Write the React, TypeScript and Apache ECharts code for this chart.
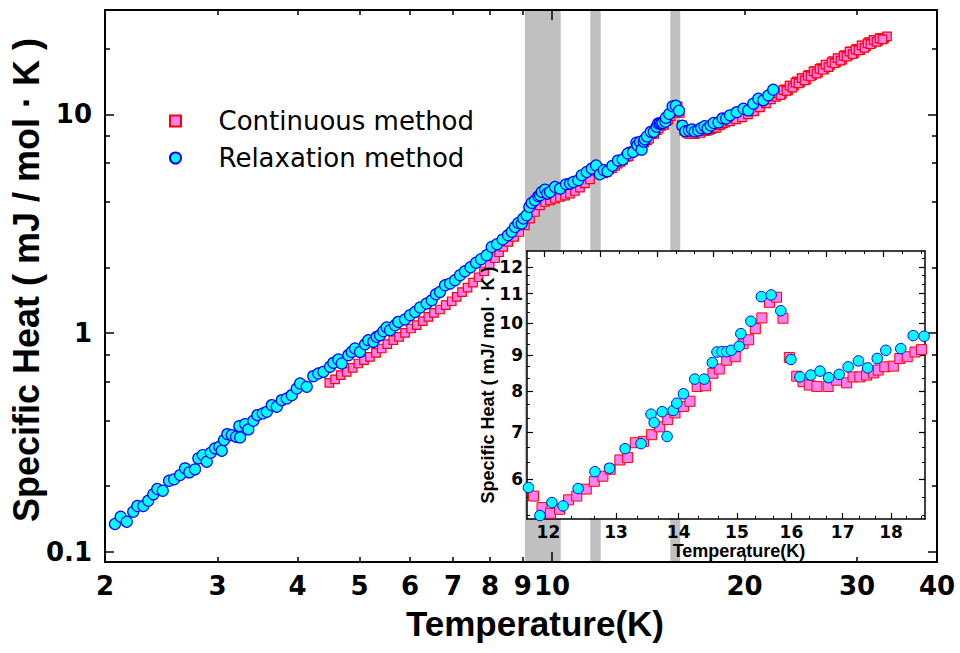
import React, { useEffect, useRef } from 'react';
import * as echarts from 'echarts';

// ---------- data (temperature K, specific heat mJ/mol·K) ----------
const relaxationPoints: [number, number][] = [
  [2.073, 0.1342], [2.116, 0.1449], [2.163, 0.1375], [2.214, 0.1528], [2.247, 0.1622], [2.296, 0.1622],
  [2.337, 0.1715], [2.380, 0.1834], [2.414, 0.1940], [2.462, 0.1905], [2.519, 0.2117], [2.565, 0.2148],
  [2.621, 0.2247], [2.668, 0.2411], [2.710, 0.2312], [2.766, 0.2386], [2.799, 0.2679], [2.844, 0.2773],
  [2.885, 0.2584], [2.927, 0.2841], [2.972, 0.2976], [3.019, 0.3026], [3.045, 0.2902], [3.070, 0.3246],
  [3.107, 0.3457], [3.157, 0.3421], [3.206, 0.3361], [3.253, 0.3340], [3.244, 0.3761], [3.312, 0.3841],
  [3.351, 0.3634], [3.412, 0.3977], [3.462, 0.4222], [3.530, 0.4298], [3.581, 0.4371], [3.646, 0.4690],
  [3.712, 0.4607], [3.780, 0.4944], [3.848, 0.5033], [3.918, 0.5210], [3.989, 0.5591], [4.037, 0.5893],
  [4.135, 0.5686], [4.234, 0.6363], [4.311, 0.6546], [4.390, 0.6657], [4.497, 0.7018], [4.551, 0.7317],
  [4.633, 0.7585], [4.690, 0.7270], [4.804, 0.7936], [4.862, 0.8214], [4.920, 0.8513], [5.009, 0.8214],
  [5.101, 0.8908], [5.161, 0.9290], [5.255, 0.9127], [5.320, 0.9618], [5.383, 0.9792], [5.448, 1.0212],
  [5.515, 1.0617], [5.581, 1.0320], [5.682, 1.0878], [5.749, 1.1261], [5.890, 1.1550], [5.997, 1.2082],
  [6.107, 1.2510], [6.218, 1.3103], [6.368, 1.3667], [6.485, 1.4152], [6.586, 1.5071], [6.681, 1.5440],
  [6.804, 1.6565], [6.927, 1.6862], [7.053, 1.7458], [7.181, 1.8400],
  [7.310, 1.919], [7.457, 2.002], [7.606, 2.099], [7.744, 2.177], [7.905, 2.271], [8.048, 2.478],
  [8.203, 2.550], [8.373, 2.678], [8.534, 2.803], [8.650, 2.908], [8.753, 3.058], [8.858, 3.189],
  [8.967, 3.169], [9.019, 3.341], [9.130, 3.459], [9.216, 3.773], [9.296, 3.935], [9.407, 4.049],
  [9.520, 4.223], [9.578, 4.268], [9.637, 4.419], [9.752, 4.531], [9.832, 4.345], [9.929, 4.419],
  [10.109, 4.657], [10.293, 4.578], [10.517, 4.790], [10.670, 4.826], [10.797, 4.908], [10.994, 4.996],
  [11.130, 5.267], [11.332, 5.453], [11.538, 5.651],
  [11.72, 5.84], [11.88, 5.33], [12.05, 5.56], [12.21, 5.50], [12.43, 5.82], [12.68, 6.15], [12.90, 6.22],
  [13.14, 6.63], [13.39, 6.74], [13.55, 7.42], [13.60, 7.22], [13.73, 7.48], [13.81, 6.90], [13.91, 7.51],
  [13.97, 7.69], [14.08, 7.93], [14.27, 8.32], [14.43, 8.32], [14.57, 8.78], [14.65, 9.09], [14.74, 9.10],
  [14.82, 9.10], [14.90, 9.14], [15.04, 9.26], [15.07, 9.65], [15.25, 10.05], [15.44, 10.89], [15.62, 10.95],
  [15.80, 10.40], [15.99, 8.87], [16.16, 8.38], [16.37, 8.43], [16.55, 8.54], [16.72, 8.36], [16.93, 8.45],
  [17.11, 8.66], [17.32, 8.83], [17.51, 8.63], [17.71, 8.90], [17.89, 9.14], [18.21, 9.19], [18.48, 9.59],
  [18.72, 9.57],
  [18.98, 9.90], [19.45, 10.24], [19.92, 10.62], [20.27, 10.43], [20.64, 11.19], [21.02, 11.79],
  [21.40, 11.59], [21.79, 12.21], [22.18, 12.97],
];

const continuousPoints: [number, number][] = [
  [4.486, 0.5929], [4.579, 0.6145], [4.674, 0.6430], [4.776, 0.6657], [4.880, 0.6943], [4.979, 0.7270],
  [5.082, 0.7527], [5.193, 0.7793], [5.307, 0.8128], [5.417, 0.8513], [5.527, 0.8908], [5.648, 0.9290],
  [5.765, 0.9618], [5.891, 1.0032], [6.020, 1.0507], [6.144, 1.0878], [6.279, 1.1346], [6.407, 1.1871],
  [6.539, 1.2378], [6.682, 1.2830], [6.821, 1.3425], [6.970, 1.3999], [7.096, 1.4646],
  [7.233, 1.539], [7.378, 1.614], [7.526, 1.701], [7.677, 1.802], [7.830, 1.919], [7.987, 2.055],
  [8.147, 2.200], [8.265, 2.344],
  [8.391, 2.478], [8.543, 2.612], [8.721, 2.753], [8.889, 2.901], [9.073, 3.112], [9.238, 3.341],
  [9.406, 3.580], [9.577, 3.841], [9.751, 3.977], [9.928, 4.049], [10.108, 4.122], [10.291, 4.193],
  [10.478, 4.255], [10.669, 4.345], [10.862, 4.465], [11.060, 4.628], [11.260, 4.842], [11.465, 5.050],
  [11.79, 5.68], [11.91, 5.47], [12.03, 5.37], [12.16, 5.44], [12.29, 5.61], [12.41, 5.68], [12.55, 5.81],
  [12.67, 5.96], [12.80, 6.06], [12.91, 6.20], [13.06, 6.39], [13.18, 6.44], [13.30, 6.76], [13.43, 6.79],
  [13.56, 6.94], [13.69, 7.12], [13.82, 7.29], [13.94, 7.45], [14.08, 7.61], [14.19, 7.74], [14.31, 8.12],
  [14.45, 8.14], [14.58, 8.48], [14.69, 8.60], [14.82, 8.85], [14.97, 8.95], [15.11, 9.34], [15.21, 9.46],
  [15.33, 9.81], [15.45, 10.16], [15.59, 10.69], [15.72, 10.87], [15.84, 10.15], [15.96, 8.93], [16.10, 8.40],
  [16.22, 8.25], [16.34, 8.16], [16.49, 8.12], [16.71, 8.12], [16.88, 8.29], [17.08, 8.22], [17.21, 8.38],
  [17.35, 8.38], [17.49, 8.43], [17.63, 8.49], [17.73, 8.57], [17.87, 8.66], [18.05, 8.68], [18.19, 8.90],
  [18.35, 8.95], [18.52, 9.09], [18.66, 9.16],
  [18.98, 9.29], [19.40, 9.49], [19.82, 9.69], [20.25, 10.00], [20.70, 10.32], [21.15, 10.76],
  [21.61, 11.22], [22.00, 11.71], [22.40, 12.02], [22.64, 12.59], [22.89, 12.43], [23.14, 13.02],
  [23.39, 12.87], [23.64, 13.55], [23.90, 13.52], [24.16, 14.16], [24.43, 14.00], [24.69, 14.63],
  [24.96, 14.43], [25.23, 15.16], [25.50, 15.10], [25.78, 15.78], [26.06, 15.57], [26.34, 16.27],
  [26.63, 16.05], [26.92, 16.85], [27.21, 16.78], [27.51, 17.54], [27.81, 17.28], [28.11, 18.04],
  [28.42, 17.78], [28.72, 18.67], [29.04, 18.60], [29.35, 19.42], [29.67, 19.11], [29.99, 19.95],
  [30.32, 19.64], [30.65, 20.61], [30.98, 20.53], [31.32, 21.41], [31.65, 21.21], [32.00, 21.89],
  [32.34, 21.68], [32.70, 22.38], [33.05, 22.26], [33.41, 22.71],
  [22.52, 12.52], [22.77, 12.25], [23.01, 12.90], [23.26, 12.82], [23.52, 13.55], [23.77, 13.26],
  [24.03, 13.96], [24.29, 13.87], [24.56, 14.64], [24.83, 14.30], [25.10, 15.02], [25.37, 14.90],
  [25.64, 15.73], [25.92, 15.36], [26.20, 16.13], [26.49, 16.00], [26.77, 16.88], [27.06, 16.46],
  [27.36, 17.29], [27.66, 17.13], [27.96, 18.07], [28.26, 17.62], [28.57, 18.52], [28.88, 18.35],
  [29.19, 19.36], [29.51, 18.86], [29.83, 19.79], [30.15, 19.60], [30.48, 20.66], [30.81, 20.15],
  [31.15, 21.12], [31.48, 20.92], [31.83, 21.89], [32.17, 21.43], [32.52, 22.26], [32.87, 22.03],
];

// shaded temperature windows (K)
const bandStart = [9.07, 11.48, 15.31];
const bandEnd = [10.32, 11.92, 15.87];

// main axes
const mainXRange = [2, 40];
const mainYRange = [0.09, 30];
const mainXLabels = [2, 3, 4, 5, 6, 7, 8, 9, 10, 20, 30, 40];
const mainXMajorTicks = [10];
const mainXMinorTicks = [2, 3, 4, 5, 6, 7, 8, 9, 20, 30, 40];
const mainYLabels = [0.1, 1, 10];
const mainYMinorTicks = [0.2, 0.4, 0.6, 0.8, 2, 4, 6, 8, 20];

// inset axes
const insetXRange = [11.7, 18.74];
const insetYRange = [5.27, 12.64];
const insetXLabels = [12, 13, 14, 15, 16, 17, 18];
const insetXMinor = [12.333, 12.667, 13.333, 13.667, 14.333, 14.667, 15.333, 15.667, 16.333, 16.667, 17.333, 17.667, 18.333, 18.667];
const insetYLabels = [6, 7, 8, 9, 10, 11, 12];
const insetYMinor = [5.333, 5.667, 6.333, 6.667, 7.333, 7.667, 8.333, 8.667, 9.333, 9.667, 10.333, 10.667, 11.333, 11.667, 12.333];

const NUM_FONT = '"DejaVu Sans", sans-serif';
const TITLE_FONT = '"Liberation Sans", Arial, sans-serif';
const fmt = (v: number) => String(parseFloat(Number(v).toPrecision(6)));

function tickAxis(base: any, values: number[], length: number, width: number, showLine: boolean, lineWidth: number) {
  return {
    ...base,
    nameMoveOverlap: false,
    splitLine: { show: false },
    axisLine: { show: showLine, onZero: false, lineStyle: { color: '#000', width: lineWidth } },
    axisLabel: { show: false },
    axisTick: { show: true, inside: true, length, customValues: values, lineStyle: { color: '#000', width } },
  };
}

export default function App() {
  const ref = useRef<HTMLDivElement>(null);
  useEffect(() => {
    if (!ref.current) return;
    const chart = echarts.init(ref.current, undefined, { renderer: 'svg' });

    const mx = { type: 'log', logBase: 10, gridIndex: 0, min: mainXRange[0], max: mainXRange[1], z: 3 };
    const my = { type: 'log', logBase: 10, gridIndex: 0, min: mainYRange[0], max: mainYRange[1], z: 3 };
    const ix = { type: 'log', logBase: 10, gridIndex: 1, min: insetXRange[0], max: insetXRange[1], z: 6 };
    const ixLin = { type: 'value', gridIndex: 1, min: insetXRange[0], max: insetXRange[1], z: 6 };
    const iy = { type: 'log', logBase: 10, gridIndex: 1, min: insetYRange[0], max: insetYRange[1], z: 6 };

    const numLabel = (values: number[], size: number, margin: number, lineHeight?: number) => ({
      show: true, customValues: values, margin, color: '#000', fontFamily: NUM_FONT, fontWeight: 'bold', fontSize: size, formatter: fmt,
      ...(lineHeight ? { lineHeight } : {}),
    });

    const inInsetX = (p: [number, number]) => p[0] >= insetXRange[0] && p[0] <= insetXRange[1];

    const option: any = {
      animation: false,
      backgroundColor: '#fff',
      grid: [
        { left: 105, top: 10, width: 832, height: 552, outerBoundsMode: 'none', containLabel: false, show: false },
        { left: 527, top: 251, width: 398, height: 268, outerBoundsMode: 'none', containLabel: false, show: true, backgroundColor: '#fff', borderWidth: 0, z: 5 },
      ],
      legend: {
        data: [
          { name: 'Continuous method', icon: 'path://M0 0H10V10H0Z' },
          { name: 'Relaxation method', icon: 'circle' },
        ],
        orient: 'vertical', left: 169, top: 108, padding: 0,
        itemWidth: 76, itemHeight: 11, itemGap: 11, selectedMode: false, symbolKeepAspect: true,
        textStyle: { fontFamily: NUM_FONT, fontSize: 26, lineHeight: 26, color: '#000' },
        z: 4,
      },
      xAxis: [
        {
          ...tickAxis({ ...mx, position: 'bottom' }, mainXMinorTicks, 5, 1.5, true, 2),
          axisLabel: numLabel(mainXLabels, 26, 14, 20),
          name: 'Temperature(K)', nameLocation: 'middle', nameGap: 43.5,
          nameTextStyle: { fontFamily: TITLE_FONT, fontWeight: 'bold', fontSize: 35, lineHeight: 35, color: '#000', padding: [0, 0, 0, 28] },
        },
        tickAxis({ ...mx, position: 'bottom' }, mainXMajorTicks, 10, 1.5, false, 2),
        tickAxis({ ...mx, position: 'top' }, mainXMinorTicks, 5, 1.5, true, 2),
        tickAxis({ ...mx, position: 'top' }, mainXMajorTicks, 10, 1.5, false, 2),
        {
          ...tickAxis({ ...ix, position: 'bottom' }, insetXLabels, 6, 1.2, true, 1.5),
          axisLabel: numLabel(insetXLabels, 17, 6, 14),
          name: 'Temperature(K)', nameLocation: 'middle', nameGap: 23,
          nameTextStyle: { fontFamily: TITLE_FONT, fontWeight: 'bold', fontSize: 18, lineHeight: 18, color: '#000', padding: [0, 0, 0, 26] },
        },
        tickAxis({ ...ix, position: 'bottom' }, insetXMinor, 3, 1, false, 1.5),
        tickAxis({ ...ixLin, position: 'top' }, insetXLabels, 6, 1.2, true, 1.5),
        tickAxis({ ...ixLin, position: 'top' }, insetXMinor, 3, 1, false, 1.5),
      ],
      yAxis: [
        {
          ...tickAxis({ ...my, position: 'left' }, mainYLabels, 9, 1.5, true, 2),
          axisLabel: numLabel(mainYLabels, 26, 13),
          name: 'Specific Heat ( mJ / mol · K )', nameLocation: 'middle', nameGap: 61,
          nameTextStyle: { fontFamily: TITLE_FONT, fontWeight: 'bold', fontSize: 36, color: '#000', padding: [0, 0, 0, 12] },
        },
        tickAxis({ ...my, position: 'left' }, mainYMinorTicks, 5, 1.5, false, 2),
        tickAxis({ ...my, position: 'right' }, mainYLabels, 9, 1.5, true, 2),
        tickAxis({ ...my, position: 'right' }, mainYMinorTicks, 5, 1.5, false, 2),
        {
          ...tickAxis({ ...iy, position: 'left' }, insetYLabels, 6, 1.2, true, 1.5),
          axisLabel: numLabel(insetYLabels, 17, 4),
          name: 'Specific Heat ( mJ/ mol · K )', nameLocation: 'middle', nameGap: 30,
          nameTextStyle: { fontFamily: TITLE_FONT, fontWeight: 'bold', fontSize: 18, color: '#000' },
        },
        tickAxis({ ...iy, position: 'left' }, insetYMinor, 3, 1, false, 1.5),
        tickAxis({ ...iy, position: 'right' }, insetYLabels, 6, 1.2, true, 1.5),
        tickAxis({ ...iy, position: 'right' }, insetYMinor, 3, 1, false, 1.5),
      ],
      series: [
        {
          type: 'custom', name: 'bands', xAxisIndex: 0, yAxisIndex: 0, z: 1, silent: true,
          data: bandStart.map((s, i) => [s, bandEnd[i], 1]),
          encode: { x: [0, 1], y: 2 },
          renderItem: (params: any, api: any) => {
            const a = api.coord([api.value(0), api.value(2)]);
            const b = api.coord([api.value(1), api.value(2)]);
            const cs = params.coordSys;
            return { type: 'rect', shape: { x: a[0], y: cs.y, width: b[0] - a[0], height: cs.height }, style: { fill: '#C0C0C0' } };
          },
        },
        {
          type: 'scatter', name: 'Continuous method', xAxisIndex: 0, yAxisIndex: 0, z: 2,
          symbol: 'rect', symbolSize: 8.5, data: continuousPoints,
          itemStyle: { color: '#FF80F0', borderColor: '#FF0000', borderWidth: 1.2, opacity: 1 },
        },
        {
          type: 'scatter', name: 'Relaxation method', xAxisIndex: 0, yAxisIndex: 0, z: 2,
          symbol: 'circle', symbolSize: 11, data: relaxationPoints,
          itemStyle: { color: '#00FFFF', borderColor: '#0000FF', borderWidth: 1.2, opacity: 1 },
        },
        {
          type: 'scatter', name: 'Continuous method', xAxisIndex: 4, yAxisIndex: 4, z: 7,
          symbol: 'rect', symbolSize: 10, data: continuousPoints.filter(inInsetX),
          itemStyle: { color: '#FF80F0', borderColor: '#FF0000', borderWidth: 1, opacity: 1 },
        },
        {
          type: 'scatter', name: 'Relaxation method', xAxisIndex: 4, yAxisIndex: 4, z: 7,
          symbol: 'circle', symbolSize: 10.5, data: relaxationPoints.filter(inInsetX),
          itemStyle: { color: '#00FFFF', borderColor: '#0000FF', borderWidth: 1, opacity: 1 },
        },
      ],
    };

    chart.setOption(option);
    return () => chart.dispose();
  }, []);

  return <div ref={ref} style={{ position: 'absolute', left: 0, top: 0, width: 960, height: 653 }} />;
}
